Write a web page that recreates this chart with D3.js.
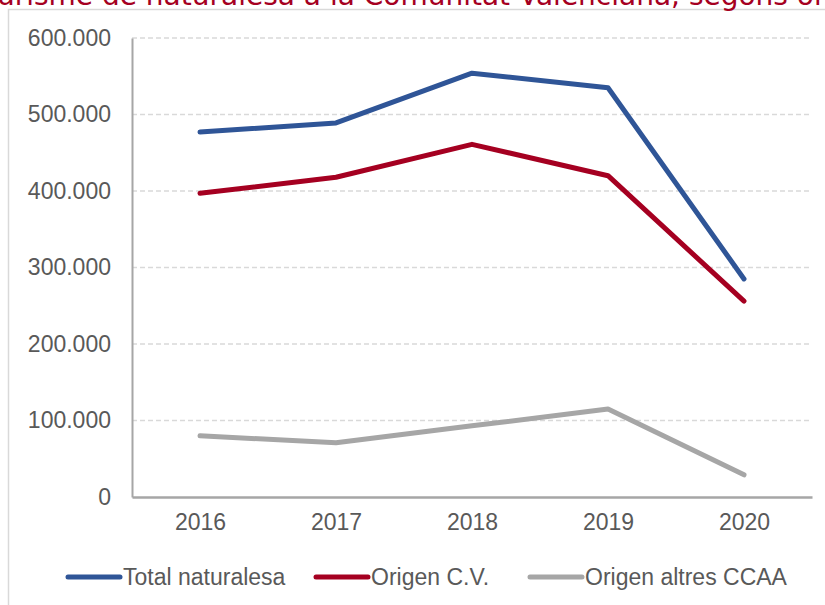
<!DOCTYPE html>
<html>
<head>
<meta charset="utf-8">
<script src="https://cdn.jsdelivr.net/npm/d3@7"></script>
<style>
  body { margin: 0; background: #fff; }
  svg { display: block; font-family: "Liberation Sans", Arial, sans-serif; }
</style>
</head>
<body>
<svg id="chart" width="825" height="605"></svg>
<script>
// data
const years = ["2016", "2017", "2018", "2019", "2020"];
const totalNaturalesa = [477000, 489000, 554000, 535000, 285000];
const origenCV = [397000, 418000, 461000, 420000, 256000];
const origenAltres = [80000, 71000, 93000, 115000, 29000];
const yTicks = [0, 100000, 200000, 300000, 400000, 500000, 600000];
const seriesNames = ["Total naturalesa", "Origen C.V.", "Origen altres CCAA"];
const colors = ["#2f5597", "#a50021", "#a6a6a6"];

const series = [totalNaturalesa, origenCV, origenAltres];

const svg = d3.select("#chart");

const margin = { top: 38, right: 13, bottom: 108, left: 132 };
const width = 825 - margin.left - margin.right;
const height = 605 - margin.top - margin.bottom;

// outer border, only left and top show
svg.append("rect")
  .attr("x", 8.5)
  .attr("y", 9.5)
  .attr("width", 900)
  .attr("height", 700)
  .attr("fill", "none")
  .attr("stroke", "#d9d9d9")
  .attr("stroke-width", 1.5);

// title cut off at the top
const titleFont = "'DejaVu Sans', Verdana, sans-serif";
const title = svg.append("text")
  .attr("y", 5)
  .attr("fill", "#a50021")
  .style("font-family", titleFont)
  .style("font-size", "28px")
  .text("Turisme de naturalesa a la Comunitat Valenciana, segons origen");
const prefix = svg.append("text")
  .style("font-family", titleFont)
  .style("font-size", "28px")
  .text("Turisme de naturalesa a la Comunitat Valenciana, ");
const prefixW = prefix.node().getComputedTextLength();
prefix.remove();
title.attr("x", 680 - prefixW);

const g = svg.append("g")
  .attr("transform", `translate(${margin.left}, ${margin.top})`);

const x = d3.scalePoint().domain(years).range([0, width]).padding(0.5);
const y = d3.scaleLinear().domain([0, 600000]).range([height, 0]);

const locale = d3.formatLocale({ decimal: ",", thousands: ".", grouping: [3], currency: ["", " €"] });
const fmt = locale.format(",d");

// gridlines
g.append("g")
  .selectAll("line")
  .data(yTicks.filter((d) => d > 0))
  .enter()
  .append("line")
  .attr("x1", 0)
  .attr("x2", width)
  .attr("y1", (d) => y(d))
  .attr("y2", (d) => y(d))
  .attr("stroke", "#d9d9d9")
  .attr("stroke-width", 1.5)
  .attr("stroke-dasharray", "5,3");

const yAxis = d3.axisLeft(y).tickValues(yTicks).tickFormat(fmt).tickSize(0).tickPadding(21);
const yG = g.append("g").call(yAxis);
yG.select(".domain").attr("stroke", "#a6a6a6").attr("stroke-width", 2);
yG.selectAll("text")
  .attr("fill", "#595959")
  .style("font-size", "23px")
  .style("font-family", "'Liberation Sans', Arial, sans-serif");

const xAxis = d3.axisBottom(x).tickSize(0).tickPadding(17);
const xG = g.append("g").attr("transform", `translate(0, ${height})`).call(xAxis);
xG.select(".domain").attr("stroke", "#a6a6a6").attr("stroke-width", 2.5);
xG.selectAll("text")
  .attr("fill", "#595959")
  .style("font-size", "23px")
  .style("font-family", "'Liberation Sans', Arial, sans-serif");

const line = d3.line()
  .x((d, i) => x(years[i]))
  .y((d) => y(d));

g.selectAll(".series")
  .data(series)
  .enter()
  .append("path")
  .attr("class", "series")
  .attr("d", (d) => line(d))
  .attr("fill", "none")
  .attr("stroke", (d, i) => colors[i])
  .attr("stroke-width", 5)
  .attr("stroke-linejoin", "round")
  .attr("stroke-linecap", "round");

// legend
const legendX = [68, 316, 530];
const legend = svg.append("g").attr("transform", "translate(0, 577)");
seriesNames.forEach((name, i) => {
  legend.append("line")
    .attr("x1", legendX[i])
    .attr("x2", legendX[i] + 52)
    .attr("stroke", colors[i])
    .attr("stroke-width", 5)
    .attr("stroke-linecap", "round");
  legend.append("text")
    .attr("x", legendX[i] + 55)
    .attr("dy", "0.35em")
    .attr("fill", "#595959")
    .style("font-size", "23px")
    .text(name);
});
</script>
</body>
</html>
